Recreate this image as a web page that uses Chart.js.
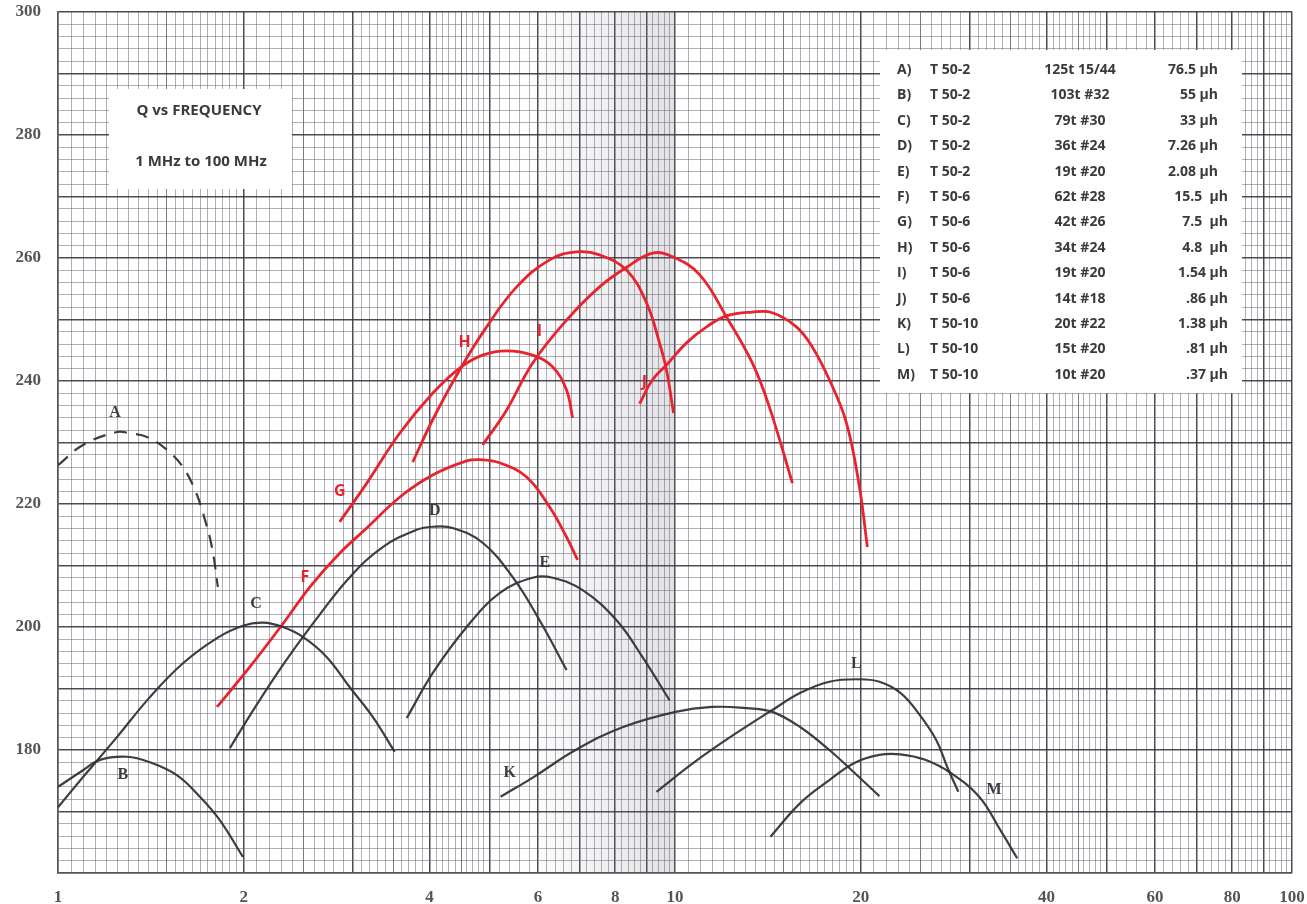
<!DOCTYPE html>
<html lang="en">
<head>
<meta charset="utf-8">
<title>Q vs Frequency</title>
<script src="https://cdn.jsdelivr.net/npm/chart.js@4.4.1/dist/chart.umd.min.js"></script>
<style>
  html, body { margin: 0; padding: 0; background: #fff; }
  #wrap { width: 1307px; height: 904px; }
</style>
</head>
<body>
<div id="wrap"><canvas id="qChart" width="1307" height="904"></canvas></div>
<script>
// curve points: [frequency MHz, Q]
const curveA = [[1.0, 226.3], [1.098, 229.6], [1.246, 231.7], [1.308, 231.5], [1.394, 230.9], [1.502, 228.8], [1.594, 226.0], [1.667, 222.3], [1.718, 218.5], [1.776, 213.0], [1.816, 206.5]];
const curveB = [[1.0, 174.0], [1.098, 176.7], [1.17, 178.4], [1.293, 178.9], [1.409, 178.0], [1.558, 175.9], [1.698, 172.4], [1.829, 168.6], [1.994, 162.6]];
const curveC = [[1.0, 170.7], [1.098, 175.6], [1.246, 182.1], [1.409, 188.6], [1.594, 194.1], [1.81, 198.2], [1.994, 200.2], [2.148, 200.7], [2.314, 200.0], [2.494, 198.4], [2.727, 195.1], [2.971, 190.2], [3.237, 185.4], [3.513, 179.7]];
const curveD = [[1.899, 180.3], [2.046, 185.6], [2.314, 193.8], [2.627, 201.4], [2.971, 208.1], [3.36, 213.0], [3.814, 215.8], [4.048, 216.3], [4.362, 216.1], [4.878, 213.7], [5.457, 208.1], [6.033, 201.1], [6.673, 193.0]];
const curveE = [[3.675, 185.2], [4.048, 192.5], [4.596, 200.0], [5.196, 205.5], [5.877, 208.0], [6.333, 208.0], [7.084, 206.0], [8.04, 201.1], [8.859, 195.1], [9.797, 188.1]];
const curveF = [[1.81, 187.0], [2.046, 193.5], [2.314, 200.5], [2.559, 206.5], [2.861, 212.0], [3.166, 216.1], [3.579, 221.1], [4.048, 224.7], [4.596, 227.0], [4.825, 227.2], [5.196, 226.7], [5.747, 224.4], [6.263, 219.5], [6.673, 214.6], [6.953, 210.9]];
const curveG = [[2.861, 217.1], [3.166, 223.4], [3.579, 231.5], [4.048, 238.0], [4.477, 242.1], [4.878, 244.2], [5.336, 244.9], [5.877, 244.2], [6.333, 242.3], [6.673, 238.5], [6.823, 234.0]];
const curveH = [[3.757, 226.8], [4.048, 233.7], [4.477, 241.8], [4.951, 248.8], [5.539, 255.3], [6.263, 259.7], [6.927, 261.0], [7.546, 260.5], [8.35, 258.0], [8.992, 252.7], [9.438, 246.2], [9.687, 241.8], [9.945, 234.8]];
const curveI = [[4.878, 229.6], [5.336, 235.3], [5.877, 242.9], [6.673, 249.9], [7.546, 255.3], [8.35, 258.5], [9.196, 260.8], [9.908, 260.2], [10.96, 257.3], [12.12, 250.4], [13.35, 242.9], [14.22, 235.8], [15.5, 223.4]];
const curveJ = [[8.76, 236.3], [9.196, 240.2], [9.687, 242.6], [10.44, 246.2], [11.25, 248.8], [12.12, 250.6], [13.35, 251.2], [14.38, 251.1], [15.73, 248.8], [16.7, 245.5], [17.79, 240.2], [18.96, 233.2], [19.9, 222.8], [20.5, 213.0]];
const curveK = [[5.217, 172.4], [5.9, 175.6], [6.9, 180.0], [8.22, 183.7], [10.02, 186.2], [11.47, 187.0], [13.1, 186.8], [14.38, 186.2], [15.97, 183.7], [17.79, 180.0], [19.53, 176.3], [21.44, 172.5]];
const curveL = [[9.333, 173.2], [10.71, 177.9], [12.25, 182.0], [14.38, 186.5], [15.97, 189.3], [17.79, 191.1], [19.82, 191.5], [21.44, 191.1], [23.19, 189.3], [24.8, 186.0], [26.52, 181.6], [27.63, 177.2], [28.79, 173.2]];
const curveM = [[14.28, 165.9], [15.97, 171.4], [17.79, 175.1], [19.53, 177.9], [21.44, 179.2], [23.19, 179.3], [25.45, 178.4], [27.94, 176.3], [31.12, 172.4], [33.66, 167.0], [35.86, 162.4]];

const xTickLabels = [1, 2, 4, 6, 8, 10, 20, 40, 60, 80, 100];
const yTickLabels = [180, 200, 220, 240, 260, 280, 300];

const legendRows = [
  ['A)', 'T 50-2', '125t 15/44', '76.5 μh'],
  ['B)', 'T 50-2', '103t #32', '55 μh'],
  ['C)', 'T 50-2', '79t #30', '33 μh'],
  ['D)', 'T 50-2', '36t #24', '7.26 μh'],
  ['E)', 'T 50-2', '19t #20', '2.08 μh'],
  ['F)', 'T 50-6', '62t #28', '15.5  μh'],
  ['G)', 'T 50-6', '42t #26', '7.5  μh'],
  ['H)', 'T 50-6', '34t #24', '4.8  μh'],
  ['I)', 'T 50-6', '19t #20', '1.54 μh'],
  ['J)', 'T 50-6', '14t #18', '.86 μh'],
  ['K)', 'T 50-10', '20t #22', '1.38 μh'],
  ['L)', 'T 50-10', '15t #20', '.81 μh'],
  ['M)', 'T 50-10', '10t #20', '.37 μh'],
];

const INK = 'rgba(52,52,56,0.95)';
const RED = '#e8232d';

// curve letter, where it is written (data coords)
const labelSpots = [
  ['A', 1.237, 234.8, INK], ['B', 1.274, 175.9, INK], ['C', 2.093, 203.7, INK],
  ['D', 4.08, 218.9, INK], ['E', 6.15, 210.4, INK], ['F', 2.512, 208.0, RED],
  ['G', 2.861, 222.0, RED], ['H', 4.56, 246.3, RED], ['I', 6.03, 248.1, RED],
  ['J', 8.92, 239.7, RED], ['K', 5.395, 176.3, INK], ['L', 19.67, 194.0, INK],
  ['M', 32.9, 173.5, INK],
];

(function () {
  const curves = [
    ['A', curveA, INK], ['B', curveB, INK], ['C', curveC, INK], ['D', curveD, INK],
    ['E', curveE, INK], ['F', curveF, RED], ['G', curveG, RED], ['H', curveH, RED],
    ['I', curveI, RED], ['J', curveJ, RED], ['K', curveK, INK], ['L', curveL, INK],
    ['M', curveM, INK],
  ];

  // graph paper rulings
  function logGrid() {
    const out = [];
    [1, 10].forEach((d) => {
      for (let v = 1; v < 2 - 1e-9; v += 0.05) out.push(+(v * d).toFixed(3));
      for (let v = 2; v < 5 - 1e-9; v += 0.1) out.push(+(v * d).toFixed(3));
      for (let v = 5; v < 10 - 1e-9; v += 0.2) out.push(+(v * d).toFixed(3));
    });
    out.push(100);
    return out;
  }
  const xGrid = logGrid();
  const yGrid = [];
  for (let v = 160; v <= 300; v += 2) yGrid.push(v);

  function xWeight(v) {
    const d = v >= 10 ? 10 : 1;
    const r = Math.round((v / d) * 100) / 100;
    if (Math.abs(r - Math.round(r)) < 1e-6) return 2;
    if (r < 5 && Math.abs(r * 2 - Math.round(r * 2)) < 1e-6) return 1;
    return 0;
  }

  const paperPlugin = {
    id: 'paper',
    beforeDatasetsDraw(chart) {
      const { ctx, chartArea, scales } = chart;
      const x0 = scales.x.getPixelForValue(5.6);
      const x1 = scales.x.getPixelForValue(10);
      const g = ctx.createLinearGradient(x0, 0, x1, 0);
      g.addColorStop(0, 'rgba(110,110,130,0)');
      g.addColorStop(0.5, 'rgba(110,110,130,0.09)');
      g.addColorStop(1, 'rgba(110,110,130,0.2)');
      ctx.save();
      ctx.fillStyle = g;
      ctx.fillRect(x0, chartArea.top, x1 - x0, chartArea.bottom - chartArea.top);

      // title box
      ctx.fillStyle = '#fff';
      ctx.fillRect(109, 89, 183, 100);
      ctx.fillStyle = '#3a3a3a';
      ctx.font = 'bold 15px "Open Sans", sans-serif';
      ctx.textAlign = 'center';
      ctx.textBaseline = 'middle';
      ctx.fillText('Q vs FREQUENCY', 199, 111);
      ctx.fillText('1 MHz to 100 MHz', 201, 162);

      // legend box
      ctx.fillStyle = '#fff';
      ctx.fillRect(880, 50, 362, 343);
      ctx.fillStyle = '#3a3a3a';
      ctx.font = 'bold 14px "Open Sans", sans-serif';
      legendRows.forEach((row, i) => {
        const y = 70 + i * 25.4;
        ctx.textAlign = 'left';
        ctx.fillText(row[0], 897, y);
        ctx.fillText(row[1], 930, y);
        ctx.textAlign = 'center';
        ctx.fillText(row[2], 1080, y);
        ctx.textAlign = 'right';
        ctx.fillText(row[3], i < 5 ? 1218 : 1228, y);
      });
      ctx.restore();
    },
    afterDatasetsDraw(chart) {
      const { ctx, scales } = chart;
      ctx.save();
      ctx.textAlign = 'center';
      ctx.textBaseline = 'middle';
      labelSpots.forEach(([t, fx, q, col]) => {
        ctx.fillStyle = col;
        ctx.font = col === RED ? 'bold 16px "Open Sans", sans-serif' : 'bold 16px "Liberation Serif", serif';
        ctx.fillText(t, scales.x.getPixelForValue(fx), scales.y.getPixelForValue(q));
      });
      ctx.restore();
    },
  };

  const tickFont = { family: '"Liberation Serif", "DejaVu Serif", serif', weight: 'bold', size: 17 };

  new Chart(document.getElementById('qChart'), {
    type: 'line',
    data: {
      datasets: curves.map(([name, pts, col]) => ({
        label: name,
        data: pts.map((p) => ({ x: p[0], y: p[1] })),
        borderColor: col,
        borderWidth: col === RED ? 2.8 : 2.2,
        borderDash: name === 'A' ? [13, 9] : [],
        pointRadius: 0,
        fill: false,
        tension: 0.4,
      })),
    },
    options: {
      responsive: false,
      animation: false,
      layout: { padding: { top: 12, right: 15, left: 0, bottom: 0 } },
      plugins: { legend: { display: false }, tooltip: { enabled: false } },
      scales: {
        x: {
          type: 'logarithmic',
          min: 1,
          max: 100,
          afterBuildTicks(s) { s.ticks = xGrid.map((v) => ({ value: v })); },
          afterFit(s) {
            s.height = 31;
            s.paddingLeft = 0;
            s.paddingRight = 0;
          },
          grid: {
            drawTicks: false,
            color: (c) => (c.tick && xWeight(c.tick.value) === 2 ? 'rgba(55,55,65,0.9)' : xWeight(c.tick ? c.tick.value : 0) === 1 ? 'rgba(80,80,90,0.75)' : 'rgba(110,110,120,0.55)'),
            lineWidth: (c) => (c.tick && xWeight(c.tick.value) === 2 ? 1.5 : 1),
          },
          border: { color: '#555', width: 1.5 },
          ticks: {
            autoSkip: false,
            maxRotation: 0,
            padding: 14,
            color: '#555',
            font: tickFont,
            callback: (v) => (xTickLabels.includes(v) ? String(v) : ''),
          },
        },
        y: {
          type: 'linear',
          min: 160,
          max: 300,
          afterBuildTicks(s) { s.ticks = yGrid.map((v) => ({ value: v })); },
          afterFit(s) {
            s.width = 58;
            s.paddingTop = 0;
            s.paddingBottom = 0;
          },
          grid: {
            drawTicks: false,
            color: (c) => (c.tick && c.tick.value % 10 === 0 ? 'rgba(55,55,65,0.9)' : 'rgba(110,110,120,0.55)'),
            lineWidth: (c) => (c.tick && c.tick.value % 10 === 0 ? 1.5 : 1),
          },
          border: { color: '#555', width: 1.5 },
          ticks: {
            autoSkip: false,
            padding: 17,
            color: '#555',
            font: tickFont,
            callback: (v) => (yTickLabels.includes(v) ? String(v) : ''),
          },
        },
      },
    },
    plugins: [paperPlugin],
  });
})();
</script>
</body>
</html>
